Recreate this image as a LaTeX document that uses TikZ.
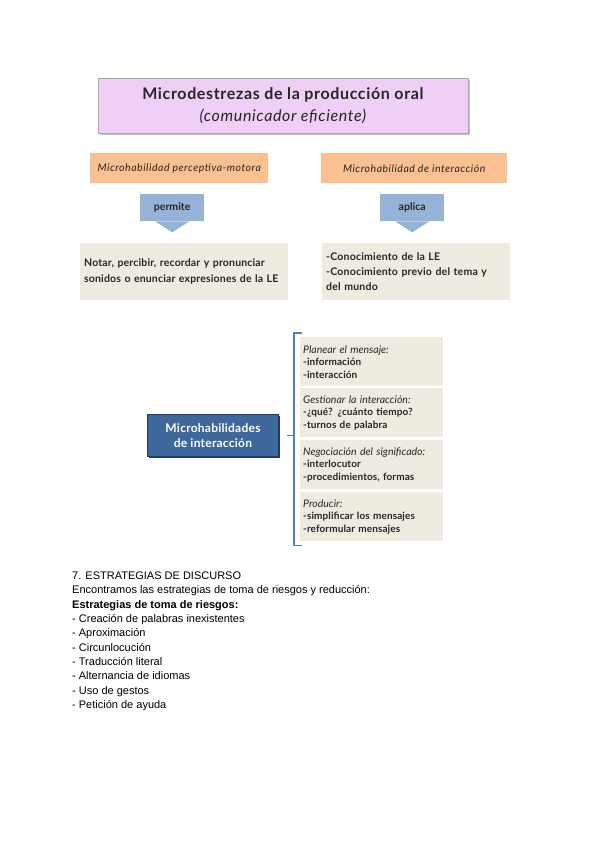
\documentclass[tikz,border=0pt]{standalone}
\usepackage{fontspec}
\setmainfont{Liberation Sans}
\newfontfamily\esquema{Lato}
\newcommand\rotulo{\esquema\mdseries\itshape\fontsize{10.5}{12.5}\selectfont}
\usetikzlibrary{shadows,calc}

\definecolor{lila}{RGB}{240,207,247}
\definecolor{naranja}{RGB}{250,192,144}
\definecolor{crema}{RGB}{238,236,225}
\definecolor{celeste}{RGB}{149,179,215}
\definecolor{azul}{RGB}{62,104,156}
\definecolor{azulosc}{RGB}{36,60,94}
\definecolor{corchete}{RGB}{79,129,189}
\definecolor{tinta}{RGB}{38,38,38}

\tikzset{
  caja/.style={anchor=north west, inner sep=0pt, text=tinta},
  titulo/.style={caja, fill=lila, draw=gray!70, align=center,
    drop shadow={shadow xshift=2pt, shadow yshift=-2pt, fill=gray!45, opacity=1},
    font=\esquema\addfontfeature{LetterSpace=4}\fontsize{16}{21.5}\selectfont},
  habilidad/.style={caja, fill=naranja,
    font=\esquema\itshape\addfontfeature{LetterSpace=5}\fontsize{10.5}{12}\selectfont},
  flecha/.style={caja, fill=celeste, font=\esquema\bfseries\fontsize{10.5}{12}\selectfont},
  contenido/.style={caja, fill=crema, align=left, inner xsep=4pt,
    font=\esquema\bfseries\addfontfeature{LetterSpace=1.5}\fontsize{10.5}{16.5}\selectfont},
  central/.style={caja, fill=azul, draw=azulosc, line width=1pt, text=white, align=center,
    drop shadow={shadow xshift=1.5pt, shadow yshift=-1.5pt, fill=azulosc, opacity=1},
    font=\esquema\bfseries\addfontfeature{LetterSpace=2}\fontsize{12}{15}\selectfont},
  estrategia/.style={caja, fill=crema, align=left, inner xsep=3pt, text width=137,
    minimum width=143, minimum height=49,
    font=\esquema\bfseries\addfontfeature{LetterSpace=1}\fontsize{10}{12.5}\selectfont},
  corchete/.style={draw=corchete, line width=1.6pt},
}

\begin{document}
\begin{tikzpicture}[x=1pt,y=-1pt]
\useasboundingbox[fill=white] (0,0) rectangle (600,848);

\node[titulo, minimum width=370, minimum height=55] (titulo) at (98,78)
  {\textbf{Microdestrezas de la producción oral}\\\textit{(comunicador eficiente)}};

\node[habilidad, minimum width=178, minimum height=30] (perceptiva) at (90,153) {Microhabilidad perceptiva-motora};
\node[habilidad, minimum width=186, minimum height=30] (interaccion) at (321,153) {Microhabilidad de interacción};

\node[flecha, minimum width=64, minimum height=27] (permite) at (140,194) {permite};
\node[flecha, minimum width=64, minimum height=27] (aplica) at (380,194) {aplica};
\fill[celeste] ($(permite.south)+(-17,0)$) -- ($(permite.south)+(17,0)$) -- ($(permite.south)+(0,11)$) -- cycle;
\fill[celeste] ($(aplica.south)+(-17,0)$) -- ($(aplica.south)+(17,0)$) -- ($(aplica.south)+(0,11)$) -- cycle;

\node[contenido, text width=200, minimum width=208, minimum height=57] (notar) at (80,243)
  {Notar, percibir, recordar y pronunciar\\sonidos o enunciar expresiones de la LE};
\node[contenido, text width=180, minimum width=188, minimum height=57,
  font=\esquema\bfseries\addfontfeature{LetterSpace=2}\fontsize{10.5}{15}\selectfont] (conocimiento) at (322,243)
  {-Conocimiento de la LE\\-Conocimiento previo del tema y\\del mundo};

\node[central, minimum width=131, minimum height=42] (micro) at (147,414)
  {Microhabilidades\\de interacción};

\node[estrategia] (planear) at (300,337)
  {{\rotulo Planear el mensaje:}\\-información\\-interacción};
\node[estrategia] (gestionar) at (300,388)
  {{\rotulo Gestionar la interacción:}\\-¿qué? ¿cuánto tiempo?\\-turnos de palabra};
\node[estrategia] (negociar) at (300,440)
  {{\rotulo Negociación del significado:}\\-interlocutor\\-procedimientos, formas};
\node[estrategia] (producir) at (300,492)
  {{\rotulo Producir:}\\-simplificar los mensajes\\-reformular mensajes};

\coordinate (llave) at ($(planear.west |- micro.east)+(-6,0)$);
\draw[corchete] ($(planear.north west)+(2,-4)$) -| (llave) |- ($(producir.south west)+(2,4)$);
\draw[corchete] ($(micro.east)+(8,0)$) -- (llave);

\node[anchor=north west, inner sep=0pt, align=left, font=\fontsize{11}{14.35}\selectfont] (discurso) at (72,571.5)
  {7. ESTRATEGIAS DE DISCURSO\\
   Encontramos las estrategias de toma de riesgos y reducción:\\
   \textbf{Estrategias de toma de riesgos:}\\
   - Creación de palabras inexistentes\\
   - Aproximación\\
   - Circunlocución\\
   - Traducción literal\\
   - Alternancia de idiomas\\
   - Uso de gestos\\
   - Petición de ayuda};

\end{tikzpicture}
\end{document}
